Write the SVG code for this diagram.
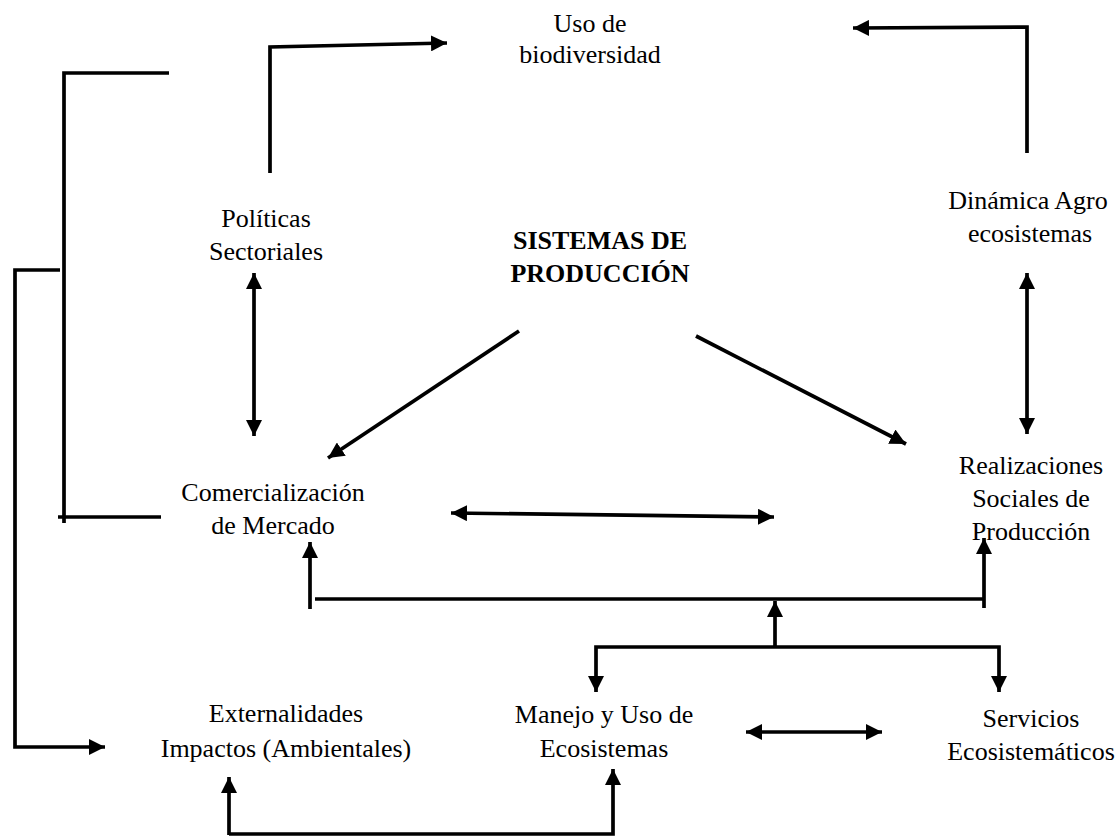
<svg xmlns="http://www.w3.org/2000/svg" width="1118" height="840" viewBox="0 0 1118 840">
<defs>
<style>
.t{font-family:"Liberation Serif","Times New Roman",serif;font-size:26px;fill:#000;text-anchor:middle}
.b{font-weight:bold}
.c{fill:none;stroke:#000;stroke-width:3.7;stroke-linejoin:miter;stroke-linecap:butt}
.e{marker-end:url(#ah)}
.d{marker-start:url(#as);marker-end:url(#ah)}
</style>
<marker id="ah" viewBox="0 0 16 16" refX="16" refY="8" markerWidth="16" markerHeight="16" markerUnits="userSpaceOnUse" orient="auto">
<path d="M0,0 L16,8 L0,16 Z" fill="#000"/>
</marker>
<marker id="as" viewBox="0 0 16 16" refX="16" refY="8" markerWidth="16" markerHeight="16" markerUnits="userSpaceOnUse" orient="auto-start-reverse">
<path d="M0,0 L16,8 L0,16 Z" fill="#000"/>
</marker>
</defs>
<rect width="1118" height="840" fill="#fff"/>
<g id="connectors">
<path class="c e" d="M270,173 L270,47 L447,43"/>
<path class="c e" d="M1027,153 L1027,27 L853,28"/>
<path class="c" d="M169,73 H64 V523"/>
<path class="c" d="M58,517 H161"/>
<path class="c e" d="M60,270 H15 V747 H105"/>
<path class="c d" d="M254,273 V436"/>
<path class="c d" d="M1027,273 V434"/>
<path class="c e" d="M519,331 L328,458"/>
<path class="c e" d="M696,336 L906,444"/>
<path class="c d" d="M451,513 L774,517"/>
<path class="c e" d="M310,609 V542"/>
<path class="c" d="M315,599 H984"/>
<path class="c e" d="M984,608 V538"/>
<path class="c e" d="M775,647 V601"/>
<path class="c e" d="M775,647 H596 V692"/>
<path class="c e" d="M775,647 H999 V692"/>
<path class="c d" d="M746,732 H882"/>
<path class="c e" d="M229,835 V777"/>
<path class="c e" d="M229,834 H613 V769"/>
</g>
<g id="uso"><text class="t" x="590" y="32">Uso de</text><text class="t" x="590" y="63">biodiversidad</text></g>
<g id="politicas"><text class="t" x="266" y="227">Políticas</text><text class="t" x="266" y="260">Sectoriales</text></g>
<g id="sistemas"><text class="t b" x="600" y="249">SISTEMAS DE</text><text class="t b" x="600" y="282">PRODUCCIÓN</text></g>
<g id="dinamica"><text class="t" x="1028" y="209">Dinámica Agro</text><text class="t" x="1030" y="242">ecosistemas</text></g>
<g id="comercializacion"><text class="t" x="273" y="501">Comercialización</text><text class="t" x="273" y="534">de Mercado</text></g>
<g id="realizaciones"><text class="t" x="1031" y="474">Realizaciones</text><text class="t" x="1031" y="507">Sociales de</text><text class="t" x="1031" y="540">Producción</text></g>
<g id="externalidades"><text class="t" x="286" y="722">Externalidades</text><text class="t" x="286" y="757">Impactos (Ambientales)</text></g>
<g id="manejo"><text class="t" x="604" y="723">Manejo y Uso de</text><text class="t" x="604" y="757">Ecosistemas</text></g>
<g id="servicios"><text class="t" x="1031" y="727">Servicios</text><text class="t" x="1031" y="760">Ecosistemáticos</text></g>
</svg>
